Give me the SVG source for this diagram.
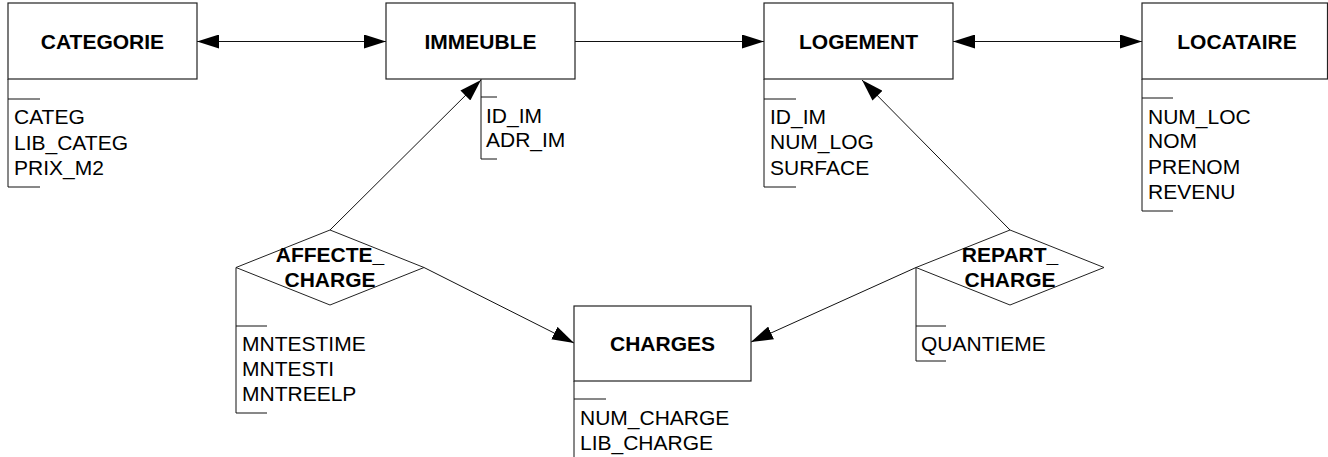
<svg xmlns="http://www.w3.org/2000/svg" width="1328" height="457" viewBox="0 0 1328 457">
<style>
.box{fill:#fff;stroke:#222;stroke-width:1.2}
.dia{fill:#fff;stroke:#222;stroke-width:1}
.ln{fill:none;stroke:#111;stroke-width:1}
.t{font-family:"Liberation Sans",Arial,sans-serif;font-size:21px;font-weight:bold;fill:#000;text-anchor:middle}
.a{font-family:"Liberation Sans",Arial,sans-serif;font-size:21px;fill:#000}
</style>
<defs>
<marker id="ah" markerUnits="userSpaceOnUse" markerWidth="22" markerHeight="14" viewBox="0 0 22 14" refX="22" refY="7" orient="auto-start-reverse">
<path d="M0,0 L22,7 L0,14 z" fill="#000"/>
</marker>
</defs>
<rect width="1328" height="457" fill="#fff"/>
<g id="connectors">
<line class="ln" x1="197" y1="41.5" x2="386" y2="41.5" marker-start="url(#ah)" marker-end="url(#ah)"/>
<line class="ln" x1="575" y1="41.5" x2="764" y2="41.5" marker-end="url(#ah)"/>
<line class="ln" x1="953" y1="41.5" x2="1142" y2="41.5" marker-start="url(#ah)" marker-end="url(#ah)"/>
<line class="ln" x1="330" y1="230" x2="481" y2="80" marker-end="url(#ah)"/>
<line class="ln" x1="424" y1="267.5" x2="574" y2="343" marker-end="url(#ah)"/>
<line class="ln" x1="916" y1="267.5" x2="751" y2="342" marker-end="url(#ah)"/>
<line class="ln" x1="1010" y1="230" x2="862" y2="80" marker-end="url(#ah)"/>
</g>
<g id="categorie">
<rect class="box" x="8" y="3" width="189" height="76"/>
<text class="t" x="102.5" y="48.5">CATEGORIE</text>
<path class="ln" d="M8,79 V187 M8,99 H40 M8,187 H40"/>
<text class="a" x="14" y="124">CATEG</text>
<text class="a" x="14" y="149.5">LIB_CATEG</text>
<text class="a" x="14" y="175">PRIX_M2</text>
</g>
<g id="immeuble">
<rect class="box" x="386" y="3" width="189" height="76"/>
<text class="t" x="480.5" y="48.5">IMMEUBLE</text>
<path class="ln" d="M481,79 V159 M481,97 H497 M481,159 H497"/>
<text class="a" x="486" y="122.5">ID_IM</text>
<text class="a" x="486" y="147">ADR_IM</text>
</g>
<g id="logement">
<rect class="box" x="764" y="3" width="189" height="76"/>
<text class="t" x="858.5" y="48.5">LOGEMENT</text>
<path class="ln" d="M764,79 V187 M764,99 H796 M764,187 H796"/>
<text class="a" x="770" y="123.5">ID_IM</text>
<text class="a" x="770" y="148.5">NUM_LOG</text>
<text class="a" x="770" y="174.5">SURFACE</text>
</g>
<g id="locataire">
<rect class="box" x="1142" y="3" width="185.5" height="76"/>
<text class="t" x="1237" y="48.5">LOCATAIRE</text>
<path class="ln" d="M1142,79 V211 M1142,98 H1173 M1142,211 H1173"/>
<text class="a" x="1148" y="123.5">NUM_LOC</text>
<text class="a" x="1148" y="148">NOM</text>
<text class="a" x="1148" y="173.5">PRENOM</text>
<text class="a" x="1148" y="198.5">REVENU</text>
</g>
<g id="affecte_charge">
<polygon class="dia" points="330,230 424,267.5 330,305 236,267.5"/>
<text class="t" x="330" y="262">AFFECTE_</text>
<text class="t" x="330" y="287">CHARGE</text>
<path class="ln" d="M236,267.5 V413 M236,326 H267 M236,413 H267"/>
<text class="a" x="242" y="351">MNTESTIME</text>
<text class="a" x="242" y="376">MNTESTI</text>
<text class="a" x="242" y="401">MNTREELP</text>
</g>
<g id="repart_charge">
<polygon class="dia" points="1010,230 1104,267.5 1010,305 916,267.5"/>
<text class="t" x="1010" y="262">REPART_</text>
<text class="t" x="1010" y="287">CHARGE</text>
<path class="ln" d="M916,267.5 V361 M916,326 H946 M916,361 H946"/>
<text class="a" x="921" y="350.5">QUANTIEME</text>
</g>
<g id="charges">
<rect class="box" x="574" y="306" width="177" height="75"/>
<text class="t" x="662.5" y="351">CHARGES</text>
<path class="ln" d="M574,381 V457 M574,399 H606"/>
<text class="a" x="580" y="424.5">NUM_CHARGE</text>
<text class="a" x="580" y="449.5">LIB_CHARGE</text>
</g>
</svg>
